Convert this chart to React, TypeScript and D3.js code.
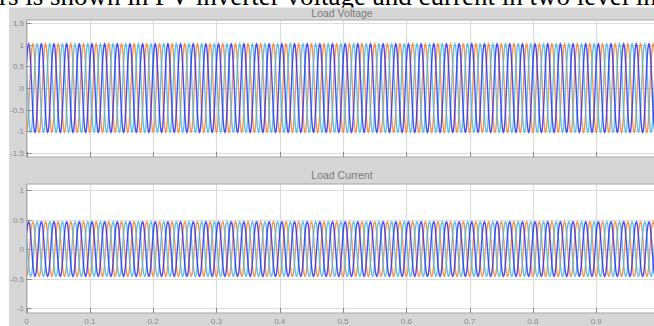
import React from "react";
import * as d3 from "d3";

// ---------- data ----------
const captionText = "rs is shown in PV inverter voltage and current in two level in";
const panelTitles = ["Load Voltage", "Load Current"];

const xTicks = [0, 0.1, 0.2, 0.3, 0.4, 0.5, 0.6, 0.7, 0.8, 0.9];
const xTickLabels = ["0", "0.1", "0.2", "0.3", "0.4", "0.5", "0.6", "0.7", "0.8", "0.9"];

const voltageTicks = [-1.5, -1, -0.5, 0, 0.5, 1, 1.5];
const voltageTickLabels = ["-1.5", "-1", "-0.5", "0", "0.5", "1", "1.5"];
const currentTicks = [-1, -0.5, 0, 0.5, 1];
const currentTickLabels = ["-1", "-0.5", "0", "0.5", "1"];

const simTime = [0, 1]; // seconds
const fundamentalHz = 50;

// one cycle of the per-unit phase waveform (24 samples, 15 deg apart)
const cycleShape = [
  0, 0.3, 0.55, 0.74, 0.88, 0.97, 1.0, 0.98, 0.9, 0.74, 0.52, 0.27,
  0, -0.3, -0.55, -0.74, -0.88, -0.97, -1.0, -0.98, -0.9, -0.74, -0.52, -0.27,
];
const phaseNames = ["orange", "cyan", "blue"];
const phaseStartSample = [18, 10, 2]; // where each phase sits in the cycle at t = 0
const voltagePeak = 1.02;
const currentPeak = 0.46;

// ---------- style ----------
const phaseColors = ["#f3843a", "#47b8e6", "#2f2fee"];
const W = 654;
const H = 326;

function buildSeries(peak: number) {
  const n = cycleShape.length;
  const cycles = (simTime[1] - simTime[0]) * fundamentalHz;
  const total = Math.round(cycles * n);
  return phaseStartSample.map((start) => {
    const pts: [number, number][] = [];
    for (let k = 0; k <= total; k++) {
      const t = simTime[0] + k / (n * fundamentalHz);
      pts.push([t, peak * cycleShape[(k + start) % n]]);
    }
    return pts;
  });
}

const voltageSeries = buildSeries(voltagePeak);
const currentSeries = buildSeries(currentPeak);

type PanelProps = {
  id: string;
  top: number;
  bottom: number;
  domain: [number, number];
  ticks: number[];
  tickLabels: string[];
  series: [number, number][][];
  title: string;
  titleY: number;
  showXLabels: boolean;
};

const plotLeft = 26.5;
const plotRight = 659.5;
const x = d3.scaleLinear().domain(simTime).range([plotLeft, plotRight]);

function Panel(p: PanelProps) {
  const y = d3.scaleLinear().domain(p.domain).range([p.bottom, p.top]);
  const line = d3
    .line<[number, number]>()
    .x((d) => x(d[0]))
    .y((d) => y(d[1]));
  const tickFont = "'Liberation Sans', Arial, sans-serif";
  return (
    <g>
      <text
        x={(plotLeft + plotRight) / 2 - 1}
        y={p.titleY}
        textAnchor="middle"
        fontFamily={tickFont}
        fontSize={10.5}
        fill="#7a7a7a"
      >
        {p.title}
      </text>
      <rect x={plotLeft} y={p.top} width={plotRight - plotLeft} height={p.bottom - p.top} fill="#ffffff" />
      {xTicks.map((t) => (
        <line key={"gx" + t} x1={Math.round(x(t)) + 0.5} x2={Math.round(x(t)) + 0.5} y1={p.top} y2={p.bottom} stroke="#dcdcdc" strokeWidth={1.2} />
      ))}
      {p.ticks.map((t) => (
        <line key={"gy" + t} x1={plotLeft} x2={plotRight} y1={Math.round(y(t)) + 0.5} y2={Math.round(y(t)) + 0.5} stroke="#dcdcdc" strokeWidth={1.2} />
      ))}
      <clipPath id={p.id}>
        <rect x={plotLeft} y={p.top} width={plotRight - plotLeft} height={p.bottom - p.top} />
      </clipPath>
      <g clipPath={`url(#${p.id})`}>
        {p.series.map((s, i) => (
          <path key={phaseNames[i]} d={line(s) || ""} fill="none" stroke={phaseColors[i]} strokeWidth={1.4} strokeOpacity={0.85} />
        ))}
      </g>
      <rect x={plotLeft} y={p.top} width={plotRight - plotLeft} height={p.bottom - p.top} fill="none" stroke="#a8a8a8" strokeWidth={1} />
      {p.ticks.map((t, i) => (
        <g key={"ty" + t}>
          <line x1={plotLeft} x2={plotLeft + 5} y1={Math.round(y(t)) + 0.5} y2={Math.round(y(t)) + 0.5} stroke="#8c8c8c" />
          <text x={24} y={y(t) + 3} textAnchor="end" fontFamily={tickFont} fontSize={8} fill="#8a8a8a">
            {p.tickLabels[i]}
          </text>
        </g>
      ))}
      {xTicks.map((t, i) => (
        <g key={"tx" + t}>
          <line x1={Math.round(x(t)) + 0.5} x2={Math.round(x(t)) + 0.5} y1={p.bottom} y2={p.bottom - 5} stroke="#8c8c8c" />
          {p.showXLabels && (
            <text x={x(t)} y={p.bottom + 11} textAnchor="middle" fontFamily={tickFont} fontSize={8} fill="#8a8a8a">
              {xTickLabels[i]}
            </text>
          )}
        </g>
      ))}
    </g>
  );
}

export default function App() {
  return (
    <svg width={W} height={H} style={{ position: "absolute", left: 0, top: 0, display: "block" }}>
      <rect x={0} y={0} width={W} height={H} fill="#ffffff" />
      <text x={-1} y={5} fontFamily="'Liberation Serif', 'Times New Roman', serif" fontSize={27} fill="#000">
        {captionText}
      </text>
      <rect x={9} y={7.5} width={W - 9} height={H - 7.5} fill="#d6d6d6" />
      <Panel
        id="clipV"
        top={20}
        bottom={157}
        domain={[-1.59, 1.57]}
        ticks={voltageTicks}
        tickLabels={voltageTickLabels}
        series={voltageSeries}
        title={panelTitles[0]}
        titleY={17}
        showXLabels={false}
      />
      <Panel
        id="clipC"
        top={184}
        bottom={313}
        domain={[-1.08, 1.1]}
        ticks={currentTicks}
        tickLabels={currentTickLabels}
        series={currentSeries}
        title={panelTitles[1]}
        titleY={179}
        showXLabels={true}
      />
    </svg>
  );
}
